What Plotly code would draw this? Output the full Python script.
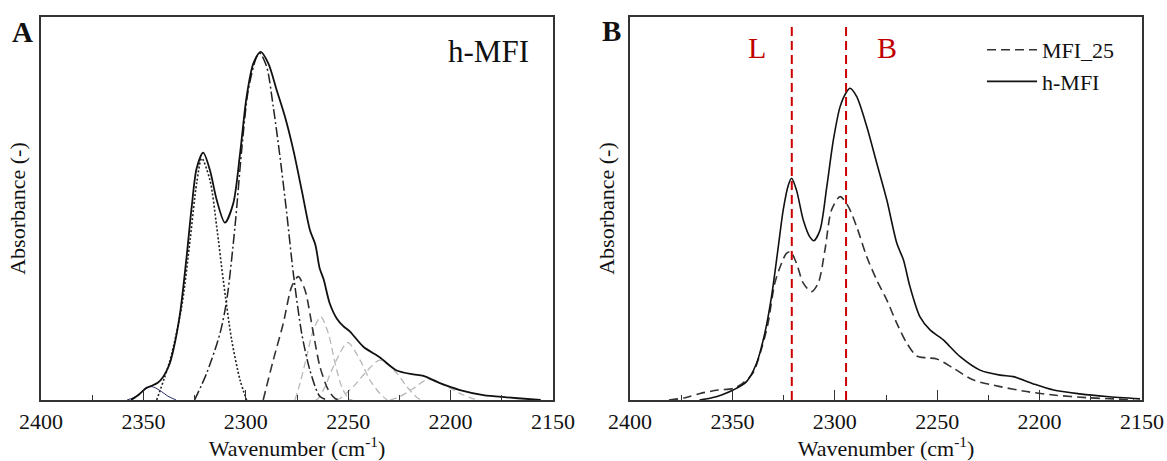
import plotly.graph_objects as go

# ---------------- Panel A: h-MFI band deconvolution ----------------
# overall fitted envelope
a_total_wn = [2356, 2352, 2348.5, 2346, 2343, 2340.3, 2337.5, 2335.4, 2332.1, 2328.9, 2326.4,
              2324, 2320.8, 2317.5, 2314.2, 2310.2, 2306.1, 2302.8, 2299.6, 2296.3, 2292.7,
              2289, 2284.9, 2280.9, 2276.8, 2272.7, 2268.7, 2266, 2264, 2262, 2259, 2255.6,
              2252.4, 2249, 2242.6, 2234.5, 2226.3, 2218.2, 2213.3, 2205.2, 2195.4, 2184,
              2172.6, 2161, 2156]
a_total_abs = [0, 0.015, 0.032, 0.037, 0.045, 0.061, 0.09, 0.13, 0.226, 0.374, 0.505,
               0.605, 0.646, 0.60, 0.522, 0.463, 0.514, 0.644, 0.792, 0.879, 0.909,
               0.879, 0.809, 0.740, 0.653, 0.548, 0.444, 0.405, 0.345, 0.315, 0.252, 0.213,
               0.193, 0.178, 0.139, 0.111, 0.077, 0.067, 0.063, 0.044, 0.026, 0.013,
               0.007, 0.002, 0]

# component bands
a_b2346_wn = [2358, 2354, 2350, 2346, 2342, 2338, 2334]
a_b2346_abs = [0, 0.008, 0.025, 0.035, 0.025, 0.01, 0]

a_b2321_wn = [2343.5, 2337, 2331.3, 2327.2, 2324, 2321.5, 2317.5, 2314.2, 2311, 2306.9, 2302.8, 2299.6]
a_b2321_abs = [0, 0.104, 0.244, 0.418, 0.566, 0.631, 0.574, 0.452, 0.313, 0.157, 0.052, 0]

a_b2293_wn = [2325, 2319.1, 2312.6, 2309.3, 2305.3, 2302, 2298.8, 2294.7, 2293.1, 2289.8,
              2286.6, 2283.3, 2280, 2276.8, 2272.7, 2268.7, 2263.8, 2260]
a_b2293_abs = [0, 0.07, 0.174, 0.261, 0.452, 0.653, 0.809, 0.896, 0.905, 0.870,
               0.766, 0.635, 0.487, 0.331, 0.174, 0.078, 0.009, 0]

a_b2274_wn = [2291.5, 2286.6, 2281.7, 2277.6, 2274.4, 2271.1, 2267, 2263.8, 2259.7, 2256.4, 2254]
a_b2274_abs = [0, 0.104, 0.2, 0.296, 0.322, 0.287, 0.174, 0.087, 0.026, 0.004, 0]

a_b2263_wn = [2276, 2273.5, 2270.3, 2267, 2263.4, 2259.7, 2256.4, 2253.2, 2249.9, 2248]
a_b2263_abs = [0, 0.044, 0.113, 0.183, 0.217, 0.174, 0.096, 0.035, 0.004, 0]

a_b2250_wn = [2266, 2264.6, 2261.3, 2257.3, 2250.2, 2244.2, 2239.4, 2234.5, 2231]
a_b2250_abs = [0, 0.004, 0.035, 0.087, 0.15, 0.104, 0.052, 0.017, 0]

a_b2234_wn = [2256, 2254, 2247.5, 2241.8, 2234.5, 2226.3, 2221.4, 2215.8, 2213]
a_b2234_abs = [0, 0.004, 0.035, 0.07, 0.104, 0.07, 0.035, 0.004, 0]

a_b2211_wn = [2229.6, 2224.7, 2218.2, 2210.9, 2201.9, 2193.8, 2187.3]
a_b2211_abs = [0, 0.009, 0.03, 0.054, 0.035, 0.013, 0]

# ---------------- Panel B: MFI_25 vs h-MFI ----------------
b_mfi25_wn = [2381, 2373, 2365.8, 2357, 2349.6, 2344.7, 2340, 2336, 2332.6, 2329.3, 2326,
              2323.6, 2321.6, 2318.7, 2315.4, 2311.4, 2308.1, 2304.8, 2301.6, 2297.4,
              2293.4, 2289.3, 2284.4, 2279.5, 2274.6, 2269.7, 2264.8, 2260, 2255, 2250.2,
              2242.1, 2232.3, 2219.3, 2206.3, 2193.2, 2176.9, 2160, 2154]
b_mfi25_abs = [0, 0.006, 0.017, 0.026, 0.03, 0.045, 0.07, 0.13, 0.2, 0.305, 0.357,
               0.383, 0.387, 0.357, 0.305, 0.283, 0.305, 0.392, 0.496, 0.531,
               0.505, 0.452, 0.374, 0.313, 0.261, 0.2, 0.148, 0.115, 0.11, 0.107,
               0.083, 0.052, 0.035, 0.022, 0.013, 0.006, 0.002, 0]

b_hmfi_wn = [2366, 2360, 2355, 2349.6, 2343.1, 2338.2, 2334.2, 2330.9, 2327.6, 2325.2, 2322.7,
             2321.1, 2318.7, 2315.4, 2312.2, 2310.2, 2307.2, 2303.9, 2300.7, 2297.4, 2294.2,
             2292.6, 2289.3, 2284.4, 2279.5, 2274.6, 2269.7, 2266.5, 2263.3, 2258.4, 2253.5,
             2247, 2243.7, 2238.8, 2229.1, 2219.3, 2212.8, 2203, 2193.2, 2180.3, 2167.2, 2151]
b_hmfi_abs = [0, 0.006, 0.014, 0.026, 0.048, 0.096, 0.174, 0.27, 0.40, 0.496, 0.561,
              0.579, 0.548, 0.47, 0.426, 0.416, 0.444, 0.557, 0.679, 0.766, 0.805,
              0.814, 0.792, 0.714, 0.618, 0.522, 0.409, 0.366, 0.296, 0.217, 0.183,
              0.157, 0.139, 0.113, 0.078, 0.065, 0.061, 0.042, 0.026, 0.016, 0.009, 0.003]

band_positions = [2321, 2294.5]
band_labels = ["L", "B"]

x_ticks = [2400, 2350, 2300, 2250, 2200, 2150]
x_range = [2400, 2150]

FONT = "Liberation Serif"
W, H = 1167, 461

fig = go.Figure()


def line(x, y, xa, ya, color, width, dash, name=None, show=False):
    fig.add_trace(go.Scatter(
        x=x, y=y, xaxis=xa, yaxis=ya, mode="lines", name=name, showlegend=show,
        line=dict(color=color, width=width, dash=dash, shape="spline", smoothing=0.8),
        hoverinfo="skip"))


# panel A components (drawn first, envelope on top)
gray_dash = "7px,4px"
line(a_b2211_wn, a_b2211_abs, "x", "y", "#b8b8b8", 1.3, gray_dash)
line(a_b2234_wn, a_b2234_abs, "x", "y", "#b8b8b8", 1.3, gray_dash)
line(a_b2250_wn, a_b2250_abs, "x", "y", "#b8b8b8", 1.3, gray_dash)
line(a_b2263_wn, a_b2263_abs, "x", "y", "#b8b8b8", 1.3, gray_dash)
line(a_b2274_wn, a_b2274_abs, "x", "y", "#333333", 1.6, "9px,5px")
line(a_b2293_wn, a_b2293_abs, "x", "y", "#222222", 1.5, "10px,3px,2px,3px")
line(a_b2321_wn, a_b2321_abs, "x", "y", "#222222", 1.6, "2px,2px")
line(a_b2346_wn, a_b2346_abs, "x", "y", "#2a2f6a", 1.0, "solid")
line(a_total_wn, a_total_abs, "x", "y", "#111111", 1.8, "solid")

# panel B spectra
line(b_mfi25_wn, b_mfi25_abs, "x2", "y2", "#333333", 1.6, "9px,5px", "MFI_25", True)
line(b_hmfi_wn, b_hmfi_abs, "x2", "y2", "#111111", 1.6, "solid", "h-MFI", True)

# L / B site markers
for pos, lab, shift in zip(band_positions, band_labels, [-35, 41]):
    fig.add_shape(type="line", xref="x2", yref="y2", x0=pos, x1=pos, y0=0, y1=0.975,
                  line=dict(color="#cc0000", width=2, dash="9px,5px"))
    fig.add_annotation(xref="x2", yref="y2", x=pos, y=0.92, xshift=shift, text=lab,
                       showarrow=False, font=dict(family=FONT, size=30, color="#c00000"))

x_l, x_r = 41 / W, 553 / W
x2_l, x2_r = 630 / W, 1142 / W
y_b, y_t = (H - 400) / H, (H - 17) / H

xaxis_common = dict(
    range=x_range, tickvals=x_ticks, ticks="inside", ticklen=10, tickwidth=1.4,
    tickcolor="#333333", showline=True, mirror=True, linecolor="#333333", linewidth=1.6,
    showgrid=False, zeroline=False, ticklabelstandoff=1, automargin=False,
    tickfont=dict(family=FONT, size=22, color="#111111"),
    minor=dict(dtick=25, ticks="inside", ticklen=5, tickwidth=1.4, tickcolor="#333333",
               showgrid=False),
    title=dict(text="Wavenumber (cm<sup>-1</sup>)", standoff=0,
               font=dict(family=FONT, size=22, color="#111111")),
)
yaxis_common = dict(
    range=[0, 1], showticklabels=False, ticks="", showline=True, mirror=True,
    linecolor="#333333", linewidth=1.6, showgrid=False, zeroline=False, automargin=False,
    title=dict(text="Absorbance (-)", standoff=8,
               font=dict(family=FONT, size=22, color="#111111")),
)

fig.update_layout(
    width=W, height=H, margin=dict(l=0, r=0, t=0, b=0, autoexpand=False),
    font=dict(family=FONT, size=22, color="#111111"),
    paper_bgcolor="white", plot_bgcolor="white",
    xaxis=dict(domain=[x_l, x_r], anchor="y", **xaxis_common),
    yaxis=dict(domain=[y_b, y_t], anchor="x", **yaxis_common),
    xaxis2=dict(domain=[x2_l, x2_r], anchor="y2", **xaxis_common),
    yaxis2=dict(domain=[y_b, y_t], anchor="x2", **yaxis_common),
    legend=dict(x=982 / W, y=1 - 29 / H, xanchor="left", yanchor="top",
                bgcolor="rgba(0,0,0,0)", font=dict(family=FONT, size=22, color="#111111"),
                itemwidth=50, tracegroupgap=0),
    showlegend=True,
)

# panel tags and sample name
tag_font = dict(family=FONT, size=29, color="#111111")
fig.add_annotation(xref="paper", yref="paper", x=22 / W, y=1 - 32 / H, text="<b>A</b>",
                   xanchor="center", yanchor="middle", showarrow=False, font=tag_font)
fig.add_annotation(xref="paper", yref="paper", x=611 / W, y=1 - 31 / H, text="<b>B</b>",
                   xanchor="center", yanchor="middle", showarrow=False, font=tag_font)
fig.add_annotation(xref="paper", yref="paper", x=531 / W, y=1 - 51 / H, text="h-MFI",
                   xanchor="right", yanchor="middle", showarrow=False,
                   font=dict(family=FONT, size=31, color="#111111"))

fig.write_html("out.html")
